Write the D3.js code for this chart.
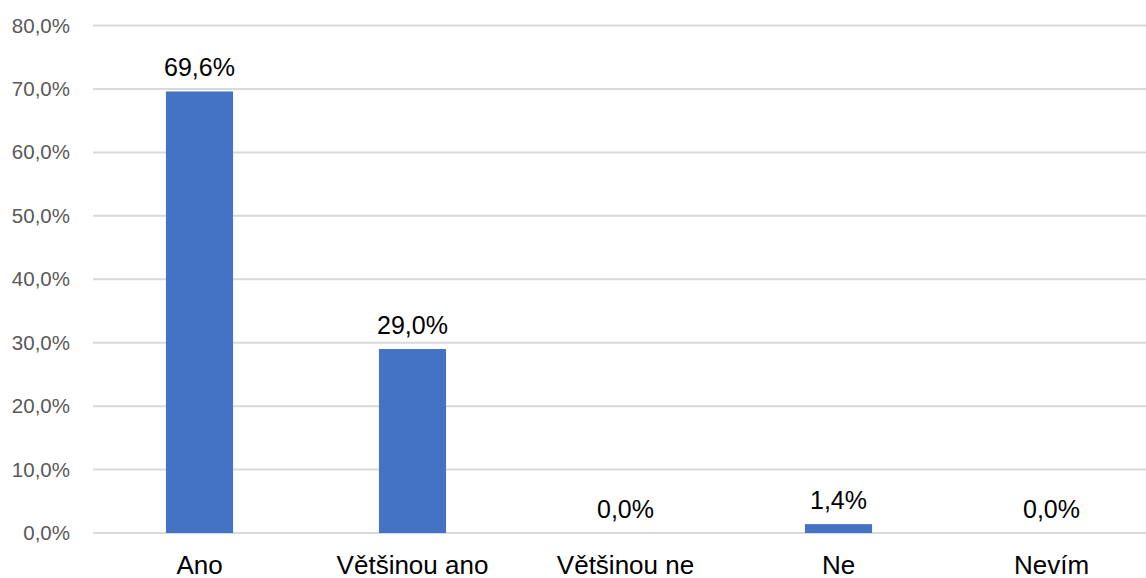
<!DOCTYPE html>
<html>
<head>
<meta charset="utf-8">
<script src="https://cdn.jsdelivr.net/npm/d3@7"></script>
<style>
  html, body { margin: 0; padding: 0; background: #fff; }
  svg { display: block; font-family: "Liberation Sans", Arial, sans-serif; }
</style>
</head>
<body>
<svg id="chart" width="1146" height="578"></svg>
<script>
const categories = ["Ano", "Většinou ano", "Většinou ne", "Ne", "Nevím"];
const values = [69.6, 29.0, 0.0, 1.4, 0.0];
const yTicks = [0, 10, 20, 30, 40, 50, 60, 70, 80];

const svg = d3.select("#chart");
const W = 1146, H = 578;
const plotLeft = 93, plotRight = 1158, plotTop = 25.5, plotBottom = 533;

const fmt = v => d3.format(".1f")(v).replace(".", ",") + "%";

const x = d3.scaleBand().domain(categories).range([plotLeft, plotRight]).paddingInner(0).paddingOuter(0);
const y = d3.scaleLinear().domain([0, 80]).range([plotBottom, plotTop]);
const barW = x.bandwidth() * 0.315;

// gridlines
svg.append("g").selectAll("line").data(yTicks).join("line")
  .attr("x1", plotLeft).attr("x2", W)
  .attr("y1", d => y(d)).attr("y2", d => y(d))
  .attr("stroke", "#d9d9d9").attr("stroke-width", 2);

// y tick labels
const yAxis = d3.axisLeft(y).tickValues(yTicks).tickFormat(fmt).tickSize(0).tickPadding(0);
const gy = svg.append("g").attr("transform", `translate(70,0)`).call(yAxis);
gy.select(".domain").remove();
gy.selectAll("text").attr("font-size", 20.5).attr("fill", "#595959")
  .attr("font-family", "Liberation Sans, Arial, sans-serif");

// bars
svg.append("g").selectAll("rect").data(values).join("rect")
  .attr("x", (d, i) => x(categories[i]) + x.bandwidth() / 2 - barW / 2)
  .attr("width", barW)
  .attr("y", d => y(d))
  .attr("height", d => plotBottom - y(d))
  .attr("fill", "#4472C4");

// data labels
svg.append("g").selectAll("text").data(values).join("text")
  .attr("x", (d, i) => x(categories[i]) + x.bandwidth() / 2)
  .attr("y", d => y(d) - 15)
  .attr("text-anchor", "middle")
  .attr("font-size", 25).attr("fill", "#000")
  .text(d => fmt(d));

// x category labels
const xAxis = d3.axisBottom(x).tickSize(0).tickPadding(0);
const gx = svg.append("g").attr("transform", `translate(0,${plotBottom})`).call(xAxis);
gx.select(".domain").remove();
gx.selectAll("text").attr("font-size", 26).attr("fill", "#000")
  .attr("font-family", "Liberation Sans, Arial, sans-serif")
  .attr("dy", null).attr("y", 40.5);
</script>
</body>
</html>
